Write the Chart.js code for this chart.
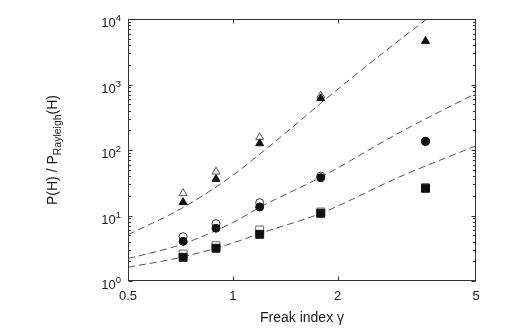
<!DOCTYPE html>
<html>
<head>
<meta charset="utf-8">
<script src="https://cdn.jsdelivr.net/npm/chart.js@4/dist/chart.umd.min.js"></script>
<style>
  html, body { margin: 0; padding: 0; background: #fff; }
  #wrap { width: 526px; height: 335px; }
</style>
</head>
<body>
<div id="wrap"><canvas id="chart" width="526" height="335"></canvas></div>
<script>
/* ---- data ---- */
const gamma = [0.72, 0.895, 1.195, 1.79, 3.58];

const triOpen   = [21.8, 46.6, 156, 674, null];
const triFilled = [15.9, 36, 126, 615, 4600];
const circOpen  = [4.75, 7.5, 15.7, 40, 134];
const circFilled = [4.04, 6.4, 13.5, 37.8, 136];
const sqOpen    = [2.58, 3.46, 6.0, 11.3, 26.6];
const sqFilled  = [2.30, 3.16, 5.16, 10.8, 26];

// dashed fit curves
const upperX = [0.5, 0.71, 1.0, 1.2, 1.4, 1.8, 2.65, 3.61];
const upperY = [5.1, 12.7, 41, 88, 172, 530, 2800, 10000];
const middleX = [0.5, 0.71, 1.0, 1.2, 1.8, 3.0, 5.0];
const middleY = [2.2, 3.6, 7.8, 13.5, 39, 182, 734];
const lowerX = [0.5, 0.71, 0.98, 1.2, 1.79, 3.02, 5.0];
const lowerY = [1.62, 2.3, 3.67, 5.35, 10.8, 39, 116];

const xTickVals = [0.5, 1, 2, 5];
const xTickLabels = ['0.5', '1', '2', '5'];
const yDecades = [0, 1, 2, 3, 4];

const pts = (xs, ys) => xs.map((x, i) => ({ x, y: ys[i] })).filter(p => p.y != null);

function markers(ys, style, radius, fill, stroke) {
  return {
    data: pts(gamma, ys),
    pointStyle: style,
    pointRadius: radius,
    pointBackgroundColor: fill,
    pointBorderColor: stroke,
    pointBorderWidth: 1,
    showLine: false
  };
}

function curve(xs, ys) {
  return {
    data: pts(xs, ys),
    showLine: true,
    pointRadius: 0,
    borderColor: '#555',
    borderWidth: 1,
    borderDash: [7, 4],
    cubicInterpolationMode: 'monotone'
  };
}

/* ---- frame, ticks and labels ---- */
const FONT = '"Liberation Sans", Arial, sans-serif';

const axisDeco = {
  id: 'axisDeco',
  afterDraw(chart) {
    const { ctx, chartArea: a, scales: { x, y } } = chart;
    const L = Math.round(a.left) + 0.5, R = Math.round(a.right) - 0.5;
    const T = Math.round(a.top) + 0.5, B = Math.round(a.bottom) - 0.5;
    ctx.save();
    ctx.strokeStyle = '#333';
    ctx.lineWidth = 1;
    ctx.strokeRect(L, T, R - L, B - T);

    ctx.beginPath();
    // y ticks, left and right, major + minor
    for (let d = 0; d < 4; d++) {
      for (let m = 1; m <= 9; m++) {
        const py = Math.round(y.getPixelForValue(m * Math.pow(10, d))) + 0.5;
        const len = m === 1 ? 4 : 2.5;
        ctx.moveTo(L, py); ctx.lineTo(L + len, py);
        ctx.moveTo(R, py); ctx.lineTo(R - len, py);
      }
    }
    // x ticks at 1 and 2, bottom and top
    [1, 2].forEach(v => {
      const px = Math.round(x.getPixelForValue(v)) + 0.5;
      ctx.moveTo(px, B); ctx.lineTo(px, B - 4);
      ctx.moveTo(px, T); ctx.lineTo(px, T + 4);
    });
    ctx.stroke();

    ctx.fillStyle = '#1a1a1a';
    // x tick labels
    ctx.font = '13px ' + FONT;
    ctx.textAlign = 'center';
    ctx.textBaseline = 'alphabetic';
    xTickVals.forEach((v, i) => {
      ctx.fillText(xTickLabels[i], x.getPixelForValue(v), a.bottom + 19);
    });

    // y tick labels 10^n
    yDecades.forEach(d => {
      const py = y.getPixelForValue(Math.pow(10, d));
      ctx.font = '9.5px ' + FONT;
      const ew = ctx.measureText(String(d)).width;
      ctx.textAlign = 'left';
      ctx.fillText(String(d), 121 - ew, py + 2);
      ctx.font = '13px ' + FONT;
      ctx.textAlign = 'right';
      ctx.fillText('10', 121 - ew, py + 8);
    });

    // x title
    ctx.font = '14px ' + FONT;
    ctx.textAlign = 'center';
    ctx.fillText('Freak index \u03b3', (a.left + a.right) / 2, a.bottom + 41);

    // y title, rotated, with subscript
    ctx.save();
    ctx.translate(57, (a.top + a.bottom) / 2);
    ctx.rotate(-Math.PI / 2);
    ctx.textAlign = 'left';
    const main1 = 'P(H) / P', sub = 'Rayleigh', main2 = '(H)';
    ctx.font = '14px ' + FONT;
    const w1 = ctx.measureText(main1).width, w3 = ctx.measureText(main2).width;
    ctx.font = '10.5px ' + FONT;
    const w2 = ctx.measureText(sub).width;
    let sx = -(w1 + w2 + w3) / 2;
    ctx.font = '14px ' + FONT;
    ctx.fillText(main1, sx, 0);
    sx += w1;
    ctx.font = '10.5px ' + FONT;
    ctx.fillText(sub, sx, 4);
    sx += w2;
    ctx.font = '14px ' + FONT;
    ctx.fillText(main2, sx, 0);
    ctx.restore();

    ctx.restore();
  }
};

new Chart(document.getElementById('chart'), {
  type: 'scatter',
  data: {
    datasets: [
      markers(triFilled, 'triangle', 4.6, '#111', '#111'),
      markers(circFilled, 'circle', 4, '#111', '#111'),
      markers(sqFilled, 'rect', 5.6, '#111', '#111'),
      markers(triOpen, 'triangle', 4.6, '#fff', '#555'),
      markers(circOpen, 'circle', 4, '#fff', '#333'),
      markers(sqOpen, 'rect', 5.6, '#fff', '#666'),
      curve(upperX, upperY),
      curve(middleX, middleY),
      curve(lowerX, lowerY)
    ]
  },
  options: {
    responsive: false,
    animation: false,
    layout: { padding: { left: 128, right: 50, top: 19, bottom: 54 } },
    plugins: { legend: { display: false }, tooltip: { enabled: false } },
    scales: {
      x: { type: 'logarithmic', min: 0.5, max: 5, display: false },
      y: { type: 'logarithmic', min: 1, max: 10000, display: false }
    }
  },
  plugins: [axisDeco]
});
</script>
</body>
</html>
